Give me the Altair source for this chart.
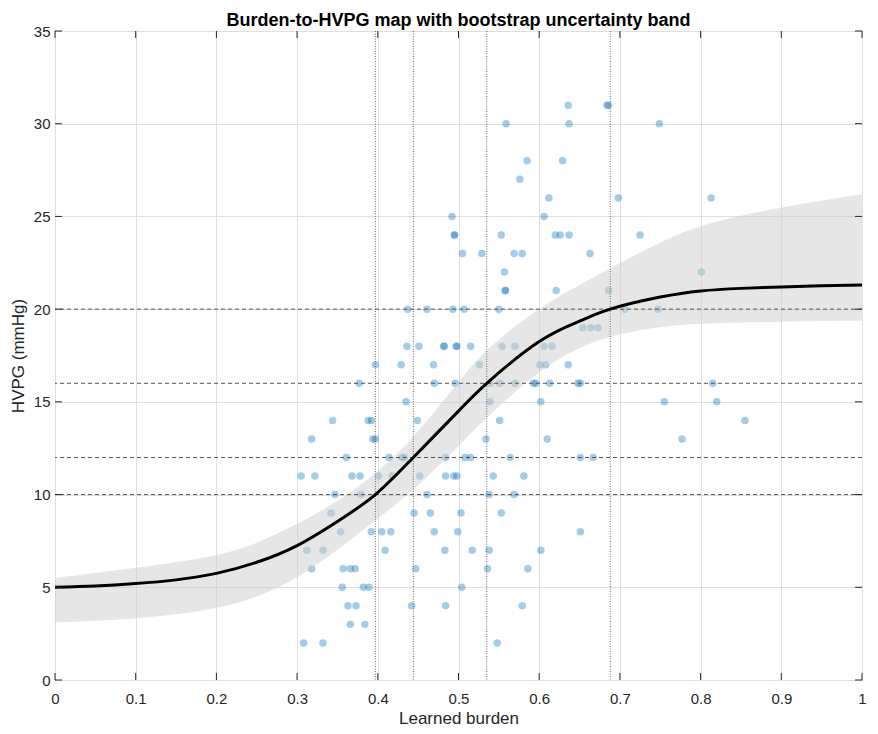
import altair as alt
import pandas as pd

# ---------------- data ----------------
burden = [
    0.308, 0.332, 0.548,
    0.366, 0.384,
    0.363, 0.373, 0.442, 0.484, 0.579,
    0.356, 0.382, 0.389, 0.504,
    0.318, 0.357, 0.366, 0.372, 0.447, 0.536, 0.586,
    0.312, 0.332, 0.409, 0.483, 0.517, 0.538, 0.602,
    0.354, 0.392, 0.405, 0.416, 0.470, 0.499, 0.651,
    0.342, 0.445, 0.465, 0.503, 0.553,
    0.347, 0.379, 0.461, 0.538, 0.569,
    0.305, 0.322, 0.368, 0.378, 0.401, 0.418, 0.452, 0.484, 0.494, 0.498, 0.543, 0.581,
    0.361, 0.414, 0.430, 0.433, 0.484, 0.508, 0.515, 0.564, 0.651, 0.667,
    0.318, 0.394, 0.397, 0.534, 0.610, 0.777,
    0.344, 0.388, 0.392, 0.449, 0.551, 0.855,
    0.435, 0.539, 0.602, 0.755, 0.820,
    0.377, 0.470, 0.496, 0.539, 0.551, 0.570, 0.593, 0.596, 0.613, 0.648, 0.651, 0.815,
    0.397, 0.429, 0.469, 0.526, 0.601, 0.608, 0.636,
    0.436, 0.451, 0.482, 0.482, 0.497, 0.498, 0.515, 0.554, 0.570, 0.606, 0.616,
    0.654, 0.664, 0.673,
    0.437, 0.461, 0.493, 0.507, 0.550, 0.706, 0.747,
    0.558, 0.558, 0.621, 0.686,
    0.557, 0.801,
    0.505, 0.529, 0.569, 0.579, 0.663,
    0.495, 0.495, 0.553, 0.620, 0.626, 0.637, 0.725,
    0.492, 0.606,
    0.612, 0.698, 0.813,
    0.576,
    0.585, 0.629,
    0.559, 0.637, 0.749,
    0.636, 0.684, 0.686,
]
hvpg = [
    2, 2, 2,
    3, 3,
    4, 4, 4, 4, 4,
    5, 5, 5, 5,
    6, 6, 6, 6, 6, 6, 6,
    7, 7, 7, 7, 7, 7, 7,
    8, 8, 8, 8, 8, 8, 8,
    9, 9, 9, 9, 9,
    10, 10, 10, 10, 10,
    11, 11, 11, 11, 11, 11, 11, 11, 11, 11, 11, 11,
    12, 12, 12, 12, 12, 12, 12, 12, 12, 12,
    13, 13, 13, 13, 13, 13,
    14, 14, 14, 14, 14, 14,
    15, 15, 15, 15, 15,
    16, 16, 16, 16, 16, 16, 16, 16, 16, 16, 16, 16,
    17, 17, 17, 17, 17, 17, 17,
    18, 18, 18, 18, 18, 18, 18, 18, 18, 18, 18,
    19, 19, 19,
    20, 20, 20, 20, 20, 20, 20,
    21, 21, 21, 21,
    22, 22,
    23, 23, 23, 23, 23,
    24, 24, 24, 24, 24, 24, 24,
    25, 25,
    26, 26, 26,
    27,
    28, 28,
    30, 30, 30,
    31, 31, 31,
]

curve_x = [0, 0.05, 0.1, 0.15, 0.2, 0.25, 0.3, 0.35, 0.397, 0.444, 0.5, 0.535,
           0.6, 0.65, 0.688, 0.75, 0.8, 0.85, 0.9, 0.95, 1.0]
curve_y = [5.0, 5.07, 5.2, 5.4, 5.75, 6.35, 7.25, 8.55, 10.0, 12.0, 14.5, 16.0,
           18.25, 19.35, 20.0, 20.65, 20.98, 21.12, 21.2, 21.26, 21.3]

band_x = [0, 0.1, 0.2, 0.25, 0.3, 0.35, 0.397, 0.444, 0.5, 0.535, 0.6, 0.65,
          0.7, 0.75, 0.8, 0.9, 1.0]
band_hi = [5.5, 6.05, 6.65, 7.35, 8.4, 9.6, 11.1, 13.0, 16.1, 17.9, 20.1, 21.3,
           22.5, 23.6, 24.6, 25.5, 26.2]
band_lo = [3.1, 3.27, 3.8, 4.45, 5.45, 7.0, 8.6, 10.2, 12.6, 14.2, 16.7, 18.0,
           18.7, 19.06, 19.24, 19.33, 19.38]

cut_hvpg = [10, 12, 16, 20]
cut_burden = [0.397, 0.444, 0.535, 0.688]

x_ticks = [0, 0.1, 0.2, 0.3, 0.4, 0.5, 0.6, 0.7, 0.8, 0.9, 1]
y_ticks = [0, 5, 10, 15, 20, 25, 30, 35]

# ---------------- chart ----------------
W, H = 807, 649
FONT = "Liberation Sans"
AX = "#262626"
TL = 7

xs = alt.Scale(domain=[0, 1], nice=False, zero=False)
ys = alt.Scale(domain=[0, 35], nice=False, zero=False)

x_axis = alt.Axis(values=x_ticks, format="~g", title="Learned burden", grid=True,
                  gridColor="#dedede", gridWidth=1, domain=False, ticks=False, tickSize=0,
                  labelFontSize=15, labelColor=AX, labelPadding=11, labelFont=FONT,
                  labelFlush=False, labelOverlap=False,
                  titleFontSize=17, titleFontWeight="normal", titleColor=AX,
                  titleFont=FONT, titlePadding=4)
y_axis = alt.Axis(values=y_ticks, format="d", title="HVPG (mmHg)", grid=True,
                  gridColor="#dedede", gridWidth=1, domain=False, ticks=False, tickSize=0,
                  labelFontSize=15, labelColor=AX, labelPadding=5, labelFont=FONT,
                  labelFlush=False, labelOverlap=False,
                  titleFontSize=17, titleFontWeight="normal", titleColor=AX,
                  titleFont=FONT, titlePadding=6)

pts = pd.DataFrame({"x": burden, "y": hvpg})
scatter = alt.Chart(pts).mark_circle(size=56, color="#0072BD", opacity=0.36).encode(
    x=alt.X("x:Q", scale=xs, axis=x_axis),
    y=alt.Y("y:Q", scale=ys, axis=y_axis),
)

band_df = pd.DataFrame({"x": band_x, "y": band_hi, "y2": band_lo})
band = alt.Chart(band_df).mark_area(color="#cfcfcf", opacity=0.52,
                                    interpolate="basis").encode(
    x=alt.X("x:Q", scale=xs), y=alt.Y("y:Q", scale=ys), y2="y2:Q")

hl = alt.Chart(pd.DataFrame({"y": cut_hvpg})).mark_rule(
    color="#555555", strokeDash=[4, 3], strokeWidth=1).encode(
    y=alt.Y("y:Q", scale=ys))

vl = alt.Chart(pd.DataFrame({"x": cut_burden})).mark_rule(
    color="#666666", strokeDash=[1, 1.5], strokeWidth=1).encode(
    x=alt.X("x:Q", scale=xs))

curve_df = pd.DataFrame({"x": curve_x, "y": curve_y})
curve = alt.Chart(curve_df).mark_line(color="black", strokeWidth=3,
                                      interpolate="natural").encode(
    x=alt.X("x:Q", scale=xs), y=alt.Y("y:Q", scale=ys))

xt = pd.DataFrame({"x": x_ticks})
yt = pd.DataFrame({"y": y_ticks})
tick_b = alt.Chart(xt).mark_rule(color=AX).encode(
    x=alt.X("x:Q", scale=xs), y=alt.value(H), y2=alt.value(H - TL))
tick_t = alt.Chart(xt).mark_rule(color=AX).encode(
    x=alt.X("x:Q", scale=xs), y=alt.value(0), y2=alt.value(TL))
tick_l = alt.Chart(yt).mark_rule(color=AX).encode(
    y=alt.Y("y:Q", scale=ys), x=alt.value(0), x2=alt.value(TL))
tick_r = alt.Chart(yt).mark_rule(color=AX).encode(
    y=alt.Y("y:Q", scale=ys), x=alt.value(W), x2=alt.value(W - TL))

chart = alt.layer(scatter, band, hl, vl, curve, tick_b, tick_t, tick_l, tick_r).properties(
    width=W, height=H,
    title=alt.TitleParams("Burden-to-HVPG map with bootstrap uncertainty band",
                          fontSize=18, fontWeight="bold", font=FONT, color="black",
                          offset=0, dy=6, frame="group"),
    autosize=alt.AutoSizeParams(type="none"),
    padding={"left": 47, "top": 23, "right": 8, "bottom": 48},
).configure_view(stroke=AX, strokeWidth=1)

chart.save("out.html", embed_options={"renderer": "svg", "actions": False})
